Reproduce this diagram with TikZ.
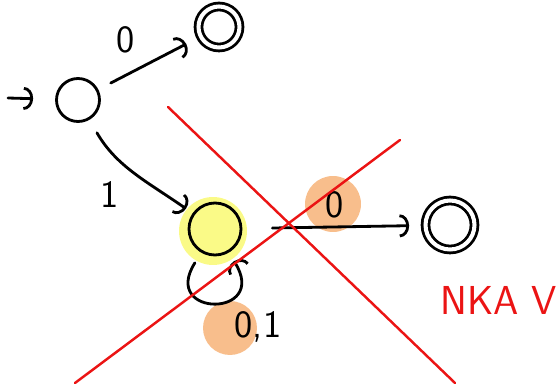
\documentclass[tikz,border=0pt]{standalone}
\usetikzlibrary{arrows.meta}
\definecolor{hlyellow}{RGB}{250,250,135}
\definecolor{hlorange}{RGB}{248,190,140}
\definecolor{penred}{RGB}{235,20,20}
\begin{document}
\begin{tikzpicture}[x=0.02cm,y=-0.02cm,>={Arc Barb[length=1.9mm,width=4.6mm]},line cap=round,line join=round,
  state/.style={draw,circle,line width=1.6pt,minimum size=#1,inner sep=0pt},
  accept/.style={state=#1,double,double distance=2.3pt},
  edge/.style={->,line width=1.6pt},
  lbl/.style={font=\sffamily\fontsize{22}{22}\selectfont},
  redline/.style={penred,line width=1.4pt}]
\useasboundingbox (0,0) rectangle (558,391);
\fill[hlyellow] (213,231) circle (0.68cm);
\fill[hlorange] (333,204) circle (0.56cm);
\fill[hlorange] (230,328) circle (0.54cm);
\node[state=0.86cm] (q0) at (78,100) {};
\node[accept=0.82cm] (qf1) at (219,27) {};
\node[state=1.04cm] (q1) at (215,229) {};
\node[accept=0.98cm] (qf2) at (450,225) {};
\coordinate (start) at (8,98);
\draw[edge,shorten >=0.44cm] (start) -- (q0);
\draw[edge,shorten <=0.28cm,shorten >=0.3cm] (q0) -- (qf1);
\draw[edge,shorten <=0.3cm,shorten >=0.16cm] (q0) to[out=-60,in=145] (q1);
\draw[edge,shorten <=0.6cm,shorten >=0.3cm] (q1) -- (qf2);
\draw[edge,shorten <=0.24cm,shorten >=0.2cm] (q1.240) .. controls (160,318) and (270,318) .. (q1.300);
\node[lbl] (lzero) at (126,40) {0};
\node[lbl] (lone) at (110,195) {1};
\node[lbl] (lzerob) at (335,205) {0};
\node[lbl] (lboth) at (258,327) {0,1};
\draw[redline] (168,107) -- (455,383);
\draw[redline] (75,383) -- (400,140);
\node[penred,font=\sffamily\fontsize{23}{23}\selectfont] (nka) at (499,300) {NKA V};
\end{tikzpicture}
\end{document}
